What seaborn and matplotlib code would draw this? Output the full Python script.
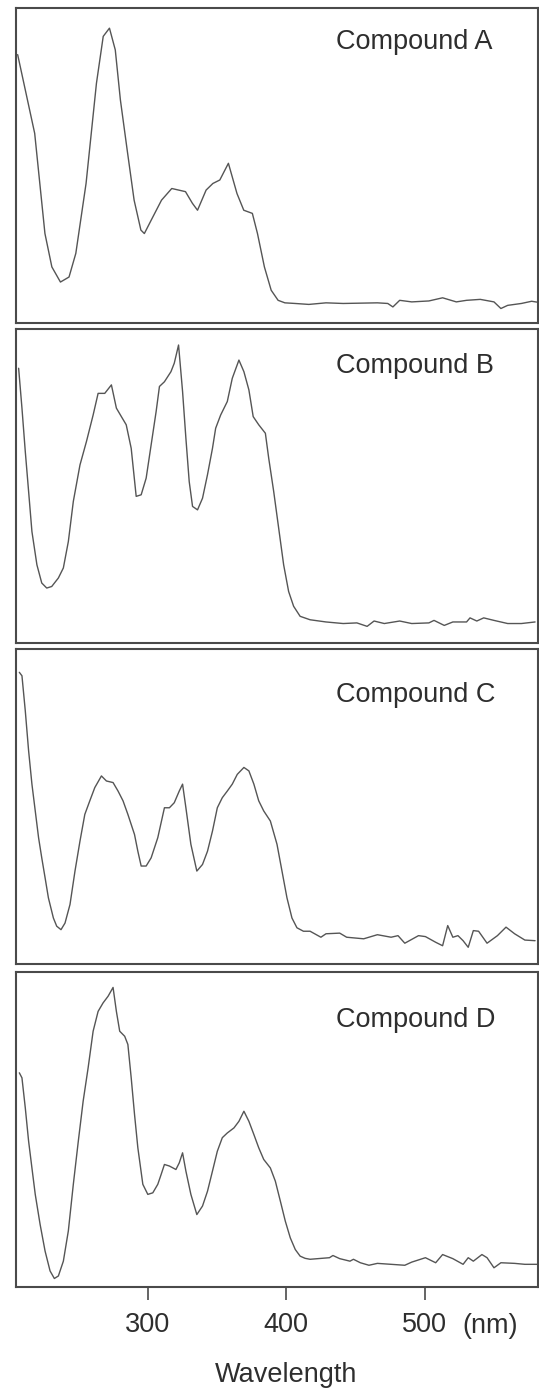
import matplotlib
matplotlib.use("Agg")
import matplotlib.pyplot as plt
import seaborn as sns
import pandas as pd

# ---------------- data (wavelength in nm, relative absorbance) ----------------
A_nm = [206.0, 218.3, 225.7, 230.7, 236.9, 243.1, 248.0, 255.4, 262.9, 267.8, 272.3, 276.5,
        280.2, 285.1, 290.1, 295.0, 297.5, 302.5, 309.9, 317.3, 327.2, 332.2, 335.9, 342.1,
        347.0, 352.0, 358.2, 364.4, 369.3, 375.5, 379.2, 384.2, 389.1, 394.1, 399.0, 406.4,
        416.3, 428.7, 441.1, 465.8, 473.3, 477.0, 481.9, 490.6, 503.0, 512.9, 522.8, 530.2,
        540.1, 550.0, 555.0, 559.9, 569.8, 577.2, 581.5]
A_abs = [0.852, 0.602, 0.284, 0.178, 0.130, 0.146, 0.221, 0.443, 0.761, 0.910, 0.936, 0.867,
         0.708, 0.549, 0.390, 0.295, 0.284, 0.327, 0.390, 0.427, 0.417, 0.380, 0.358, 0.422,
         0.443, 0.454, 0.507, 0.411, 0.358, 0.348, 0.284, 0.178, 0.104, 0.072, 0.064, 0.062,
         0.059, 0.064, 0.062, 0.064, 0.062, 0.051, 0.072, 0.067, 0.070, 0.080, 0.067, 0.072,
         0.075, 0.067, 0.046, 0.056, 0.062, 0.069, 0.066]

B_nm = [206.7, 209.1, 211.5, 213.9, 216.3, 219.9, 223.4, 227.0, 230.6, 235.4, 239.0, 242.6,
        246.2, 251.0, 255.7, 260.5, 264.1, 268.9, 273.7, 277.3, 280.9, 284.4, 288.0, 291.6,
        295.2, 298.8, 302.4, 306.0, 308.4, 312.0, 316.7, 319.1, 322.2, 325.1, 327.5, 329.9,
        332.3, 335.9, 339.5, 343.1, 346.7, 349.0, 352.6, 357.4, 361.0, 365.8, 369.4, 373.0,
        376.1, 380.1, 384.9, 387.3, 390.9, 394.5, 398.1, 401.7, 405.3, 410.0, 417.2, 428.7,
        441.1, 451.0, 458.4, 463.4, 470.8, 481.9, 490.6, 503.0, 506.7, 514.1, 520.3, 530.2,
        532.7, 537.6, 542.6, 550.0, 559.9, 569.8, 579.7]
B_abs = [0.875, 0.748, 0.610, 0.483, 0.355, 0.249, 0.191, 0.175, 0.180, 0.207, 0.239, 0.323,
         0.451, 0.567, 0.642, 0.726, 0.795, 0.795, 0.822, 0.748, 0.721, 0.695, 0.620, 0.467,
         0.472, 0.525, 0.631, 0.737, 0.817, 0.832, 0.864, 0.891, 0.949, 0.801, 0.652, 0.514,
         0.435, 0.424, 0.461, 0.536, 0.620, 0.684, 0.726, 0.769, 0.843, 0.901, 0.864, 0.806,
         0.721, 0.695, 0.668, 0.589, 0.483, 0.366, 0.249, 0.164, 0.117, 0.085, 0.074, 0.067,
         0.062, 0.064, 0.053, 0.070, 0.062, 0.070, 0.062, 0.064, 0.072, 0.056, 0.067, 0.067,
         0.080, 0.070, 0.080, 0.072, 0.062, 0.062, 0.067]

C_nm = [207.2, 209.1, 211.5, 213.9, 216.3, 218.7, 221.1, 223.4, 225.8, 228.2, 231.8, 234.2,
        237.3, 240.2, 243.8, 247.4, 251.0, 254.5, 258.1, 261.7, 266.5, 270.1, 274.9, 278.5,
        282.1, 285.6, 290.4, 292.8, 295.2, 298.8, 302.4, 307.2, 312.0, 315.6, 319.1, 322.7,
        325.1, 327.5, 331.1, 335.4, 339.5, 343.1, 346.7, 350.2, 353.8, 357.4, 361.0, 364.6,
        369.4, 373.0, 376.6, 380.1, 383.7, 388.5, 393.3, 396.9, 400.5, 404.1, 407.7, 412.4,
        417.2, 425.0, 428.7, 438.6, 443.6, 455.9, 465.8, 475.7, 480.7, 485.6, 495.5, 500.5,
        507.9, 512.9, 516.6, 520.3, 524.0, 527.7, 531.4, 535.1, 538.9, 545.0, 552.5, 558.7,
        564.9, 572.3, 579.7]
C_abs = [0.926, 0.915, 0.804, 0.677, 0.571, 0.486, 0.401, 0.337, 0.274, 0.210, 0.146, 0.120,
         0.109, 0.130, 0.189, 0.295, 0.390, 0.475, 0.518, 0.560, 0.597, 0.581, 0.576, 0.549,
         0.518, 0.475, 0.411, 0.358, 0.311, 0.311, 0.337, 0.401, 0.496, 0.496, 0.512, 0.549,
         0.571, 0.496, 0.380, 0.295, 0.316, 0.358, 0.422, 0.496, 0.528, 0.549, 0.571, 0.602,
         0.624, 0.613, 0.571, 0.518, 0.486, 0.454, 0.380, 0.295, 0.210, 0.146, 0.115, 0.104,
         0.104, 0.085, 0.096, 0.098, 0.085, 0.080, 0.093, 0.085, 0.090, 0.066, 0.090, 0.087,
         0.069, 0.058, 0.122, 0.085, 0.090, 0.074, 0.053, 0.106, 0.104, 0.066, 0.090, 0.117,
         0.096, 0.076, 0.074]

D_nm = [207.2, 209.1, 211.5, 213.9, 216.3, 218.7, 222.2, 225.8, 229.4, 232.5, 235.4, 239.0,
        242.6, 246.2, 249.8, 253.3, 256.9, 260.5, 264.1, 267.7, 271.3, 274.9, 277.3, 279.7,
        283.3, 285.6, 288.0, 290.4, 292.8, 296.4, 300.0, 303.6, 307.2, 309.6, 312.0, 315.6,
        320.3, 322.7, 325.1, 327.5, 331.1, 335.4, 339.5, 343.1, 346.7, 350.2, 353.8, 357.4,
        362.2, 365.8, 369.4, 373.0, 376.6, 380.1, 383.7, 388.5, 392.1, 395.7, 399.3, 402.9,
        406.5, 410.0, 413.6, 417.2, 431.2, 433.7, 438.6, 446.0, 448.5, 453.5, 459.7, 465.8,
        475.7, 485.6, 490.6, 500.5, 507.9, 512.9, 520.3, 527.7, 531.4, 535.1, 541.3, 545.0,
        550.0, 555.0, 564.9, 572.3, 580.9]
D_abs = [0.680, 0.664, 0.569, 0.463, 0.378, 0.294, 0.199, 0.114, 0.051, 0.027, 0.035, 0.082,
         0.178, 0.326, 0.463, 0.590, 0.696, 0.812, 0.875, 0.902, 0.923, 0.951, 0.875, 0.812,
         0.796, 0.770, 0.664, 0.548, 0.442, 0.326, 0.294, 0.299, 0.326, 0.357, 0.389, 0.384,
         0.373, 0.394, 0.426, 0.368, 0.294, 0.230, 0.257, 0.304, 0.368, 0.431, 0.474, 0.489,
         0.505, 0.526, 0.558, 0.526, 0.484, 0.442, 0.405, 0.378, 0.336, 0.273, 0.209, 0.156,
         0.119, 0.098, 0.091, 0.088, 0.093, 0.100, 0.090, 0.082, 0.088, 0.077, 0.069, 0.075,
         0.072, 0.069, 0.079, 0.093, 0.077, 0.103, 0.090, 0.072, 0.093, 0.082, 0.103, 0.093,
         0.061, 0.077, 0.075, 0.072, 0.072]

compounds = ["Compound A", "Compound B", "Compound C", "Compound D"]
tick_values = [300, 400, 500]
tick_labels = ["300", "400", "500"]
unit_label = "(nm)"
x_title = "Wavelength"

# ---------------- style ----------------
sns.set_theme(style="white")
plt.rcParams["font.family"] = ["Liberation Sans", "DejaVu Sans"]

W, H = 539, 1392
fig = plt.figure(figsize=(W / 100, H / 100), dpi=100)
fig.patch.set_facecolor("white")

line_color = "#555555"
spine_color = "#4a4a4a"
text_color = "#2e2e2e"
fs = 19.5

# panel pixel frames (top, bottom)
frames = [(8, 323), (329, 643), (649, 964), (972, 1287)]
label_baselines = [49, 373, 702, 1027]
left_px, right_px = 16, 538

series = [(A_nm, A_abs), (B_nm, B_abs), (C_nm, C_abs), (D_nm, D_abs)]

for i, ((x, y), (top, bot)) in enumerate(zip(series, frames)):
    ax = fig.add_axes([left_px / W, 1 - bot / H, (right_px - left_px) / W, (bot - top) / H])
    df = pd.DataFrame({"nm": x, "abs": y})
    sns.lineplot(data=df, x="nm", y="abs", ax=ax, color=line_color, linewidth=1.0,
                 estimator=None, sort=False)
    ax.set_xlim(204.8, 581.8)
    ax.set_ylim(0, 1)
    ax.set_xlabel("")
    ax.set_ylabel("")
    ax.set_yticks([])
    ax.set_facecolor("white")
    for s in ax.spines.values():
        s.set_visible(True)
        s.set_color(spine_color)
        s.set_linewidth(1.5)
    if i == 3:
        ax.set_xticks(tick_values)
        ax.set_xticklabels(tick_labels, fontsize=fs, color=text_color)
        ax.tick_params(axis="x", direction="out", length=9.4, width=1.2,
                       color=spine_color, pad=8.5, bottom=True)
    else:
        ax.set_xticks([])
    fig.text(336 / W, 1 - label_baselines[i] / H, compounds[i], fontsize=fs,
             color=text_color, ha="left", va="baseline")

fig.text(462 / W, 1 - 1333 / H, unit_label, fontsize=fs, color=text_color,
         ha="left", va="baseline")
fig.text(286 / W, 1 - 1382 / H, x_title, fontsize=fs, color=text_color,
         ha="center", va="baseline")

fig.savefig("out.png", dpi=100, facecolor="white")
